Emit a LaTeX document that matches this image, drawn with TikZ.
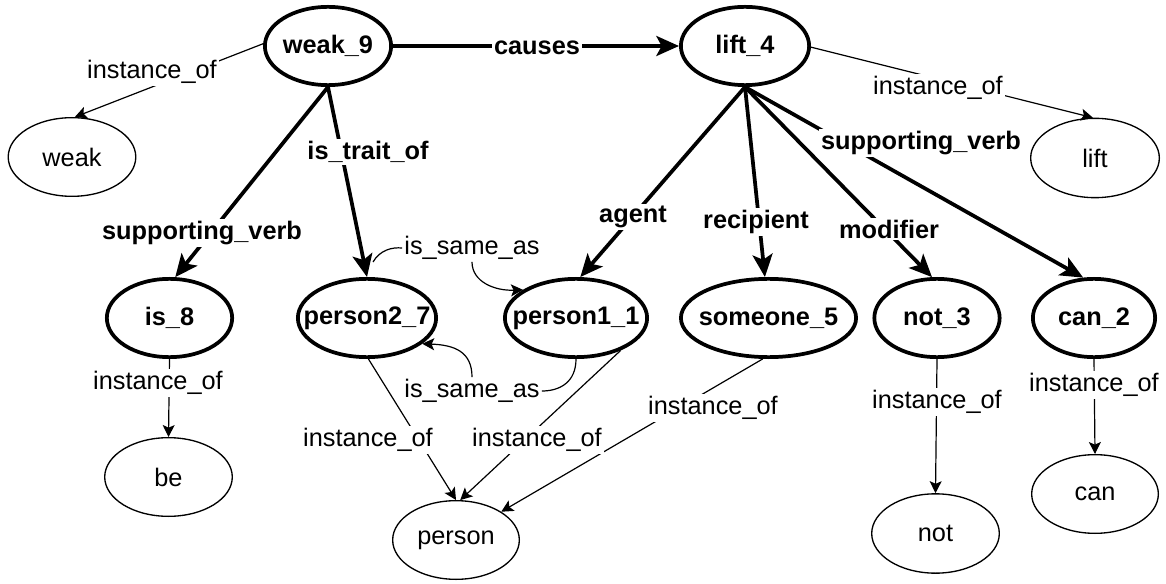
\documentclass[tikz,border=0pt]{standalone}
\usepackage{fontspec}
\setmainfont{Liberation Sans}
\usetikzlibrary{arrows.meta,shapes.geometric}
\newcommand{\ntx}[1]{\makebox[0pt]{#1}}
\begin{document}
\begin{tikzpicture}[x=0.75pt,y=-0.75pt,
  every node/.style={font=\fontsize{19}{22}\selectfont},
  ent/.style={ellipse, draw, line width=2.8pt, inner sep=0pt, fill=white, font=\fontsize{19}{22}\selectfont\bfseries},
  cls/.style={ellipse, draw, line width=1pt, inner sep=0pt, fill=white},
  lbl/.style={fill=white, inner sep=1.5pt},
  blbl/.style={fill=white, inner sep=1.5pt, font=\fontsize{19}{22}\selectfont\bfseries},
  thickedge/.style={line width=2.8pt, -{Stealth[length=17pt,width=15pt,inset=4pt]}},
  thinedge/.style={line width=0.9pt, -{Stealth[length=9pt,width=9pt,inset=2pt]}},
  plainedge/.style={line width=0.9pt},
]
\fill[white] (0,0) rectangle (1166,584);
\useasboundingbox (0,0) rectangle (1166,584);

% entity nodes
\node[ent, minimum width=94.7pt, minimum height=58.7pt] (w9) at (328,46) {\ntx{weak\_9}};
\node[ent, minimum width=96.2pt, minimum height=58.7pt] (l4) at (745,46) {\ntx{lift\_4}};
\node[ent, minimum width=94pt, minimum height=58.7pt] (is8) at (169.5,318) {\ntx{is\_8}};
\node[ent, minimum width=103.7pt, minimum height=58.7pt] (p2) at (367,318) {\ntx{person2\_7}};
\node[ent, minimum width=106.7pt, minimum height=58.7pt] (p1) at (576,318) {\ntx{person1\_1}};
\node[ent, minimum width=131.4pt, minimum height=58.7pt] (s5) at (768.5,318) {\ntx{someone\_5}};
\node[ent, minimum width=94pt, minimum height=58.7pt] (n3) at (937,318) {\ntx{not\_3}};
\node[ent, minimum width=91.7pt, minimum height=58.7pt] (c2) at (1094,318) {\ntx{can\_2}};

% class nodes
\node[cls, minimum width=95.7pt, minimum height=59pt] (weak) at (72,157) {\ntx{weak}};
\node[cls, minimum width=96.5pt, minimum height=59.5pt] (lift) at (1095,158) {\ntx{lift}};
\node[cls, minimum width=95.7pt, minimum height=59pt] (be) at (168.5,477) {\ntx{be}};
\node[cls, minimum width=95pt, minimum height=59pt] (person) at (456,540) {\ntx{person}};
\node[cls, minimum width=95.7pt, minimum height=59.5pt] (not) at (935.5,533.5) {\ntx{not}};
\node[cls, minimum width=95pt, minimum height=59pt] (can) at (1095,494) {\ntx{can}};

% thick relation edges
\draw[thickedge] (w9.east) -- (l4.west);
\draw[thickedge] (w9.south) -- (is8.82.5);
\draw[thickedge] (w9.south) -- (p2.north);
\draw[thickedge] (l4.south) -- (p1.84);
\draw[thickedge] (l4.south) -- (s5.95);
\draw[thickedge] (l4.south) -- (n3.97);
\draw[thickedge] (l4.south) -- (c2.105);

% thin instance edges
\draw[thinedge] (w9.178) -- (weak.86);
\draw[thinedge] (l4.-1) -- (lift.93);
\draw[thinedge] (is8.south) -- (be.north);
\draw[thinedge] (p2.-88) -- (person.90);
\draw[thinedge] (p1.-36) -- (person.84);
\draw[thinedge] (s5.-98) -- (person.32);
\draw[thinedge] (n3.south) -- (not.north);
\draw[thinedge] (c2.south) -- (can.north);

% labels
\node[blbl] (lcauses) at (537,48) {causes};
\node[blbl] (ltrait) at (368,152) {is\_trait\_of};
\node[blbl] (lsv1) at (202,233) {supporting\_verb};
\node[blbl] (lsv2) at (921,143) {supporting\_verb};
\node[blbl] (lagent) at (633,217) {agent};
\node[blbl] (lrec) at (756,222) {recipient};
\node[blbl] (lmod) at (889,229) {modifier};

\node[lbl] (li1) at (152,72) {instance\_of};
\node[lbl] (li2) at (938,88) {instance\_of};
\node[lbl] (li3) at (158,383) {instance\_of};
\node[lbl] (li4) at (368,440) {instance\_of};
\node[lbl] (li5) at (537,440) {instance\_of};
\node[lbl] (li6) at (713,408) {instance\_of};
\node[lbl] (li7) at (937,402) {instance\_of};
\node[lbl] (li8) at (1094,385) {instance\_of};

\node[lbl] (sa1) at (472,248) {is\_same\_as};
\node[lbl] (sa2) at (472,391) {is\_same\_as};

% is_same_as curves
\coordinate (sa1s) at (373,262);
\draw[plainedge] (sa1s) .. controls (380,250) and (392,247) .. (sa1.west);
\draw[thinedge] (sa1.south) .. controls (472,282) and (495,291) .. (p1.152);
\draw[plainedge] (p1.south) .. controls (576,382) and (560,391) .. (sa2.east);
\draw[thinedge] (sa2.north) .. controls (472,352) and (455,345) .. (p2.-25);
\end{tikzpicture}
\end{document}
